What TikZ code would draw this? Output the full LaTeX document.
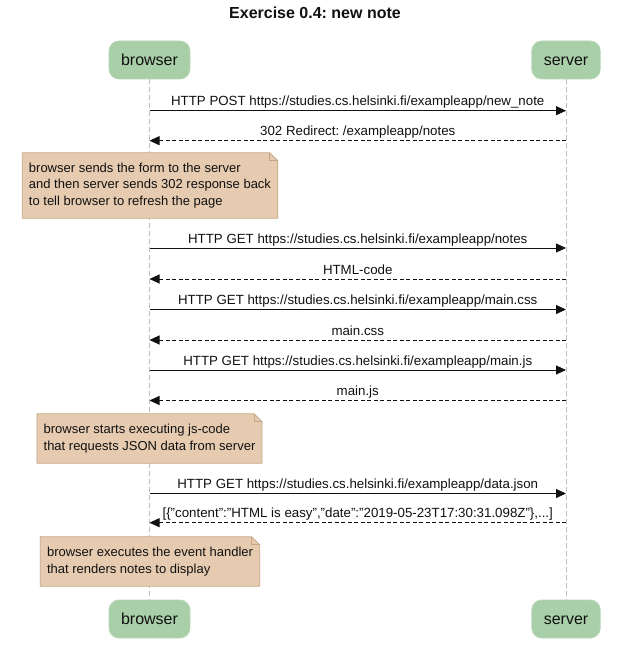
\documentclass[tikz,border=0pt]{standalone}
\usepackage{fontspec}
\setmainfont{Liberation Sans}
\usetikzlibrary{arrows.meta,backgrounds}

\definecolor{actorfill}{HTML}{A9CFA9}
\definecolor{actorline}{HTML}{B6D6B6}
\definecolor{notefill}{HTML}{E6CBB0}
\definecolor{noteline}{HTML}{C4A684}
\definecolor{lifegray}{HTML}{BDBDBD}
\definecolor{inkcol}{HTML}{111111}

% note outline with a folded top-right corner, drawn around a named node
\newcommand\dogear[1]{%
  \path[notebox] (#1.north west) -- ([xshift=-8pt]#1.north east)
     -- ([yshift=-8pt]#1.north east) -- (#1.south east) -- (#1.south west) -- cycle;
  \draw[noteline, line width=0.8pt] ([xshift=-8pt]#1.north east) -- ++(0,8) -- ++(8,0);
}

\begin{document}
\frenchspacing
\begin{tikzpicture}[x=1pt, y=-1pt,
  every node/.style={text=inkcol},
  titletext/.style={font=\fontsize{16}{19}\bfseries\selectfont},
  actor/.style={fill=actorfill, draw=actorline, line width=0.8pt, rounded corners=10pt,
    minimum height=38pt, inner xsep=12pt, font=\fontsize{16}{19}\selectfont,
    text height=11.5pt, text depth=0.5pt},
  note/.style={align=left, inner xsep=6.5pt, inner ysep=0pt,
    font=\fontsize{13}{16.5}\selectfont},
  notebox/.style={fill=notefill, draw=noteline, line width=0.8pt},
  life/.style={draw=lifegray, line width=0.8pt, dash pattern=on 5pt off 3pt},
  call/.style={draw=inkcol, line width=0.9pt, -{Triangle[length=10pt,width=9pt]}},
  reply/.style={call, dash pattern=on 4pt off 2.5pt},
  lbl/.style={midway, above, inner sep=1.5pt, text height=9.5pt, text depth=3pt,
    font=\fontsize{13.3}{15}\selectfont}
]
\useasboundingbox (0,0) rectangle (630,647);

\node[titletext] (title) at (315,12.5) {Exercise 0.4: new note};

% participants
\node[actor] (bTop) at (149.5,60) {browser};
\node[actor] (sTop) at (566,60) {server};
\node[actor] (bBot) at (149.5,619) {browser};
\node[actor] (sBot) at (566,619) {server};

% notes
\node[note, minimum height=65pt] (n1) at (150,185.5)
  {browser sends the form to the server\\and then server sends 302 response back\\to tell browser to refresh the page};
\node[note, minimum height=49pt] (n2) at (149.5,438.5)
  {browser starts executing js-code\\that requests JSON data from server};
\node[note, minimum height=49pt] (n3) at (150,561.5)
  {browser executes the event handler\\that renders notes to display};

\begin{scope}[on background layer]
  \fill[white] (0,0) rectangle (630,647);
  \draw[life] (bTop) -- (bBot);
  \draw[life] (sTop) -- (sBot);
  \dogear{n1}
  \dogear{n2}
  \dogear{n3}
\end{scope}

% message end points on the two lifelines
\foreach \i/\y in {1/110.7, 2/140.7, 3/248, 4/279, 5/309.5, 6/340, 7/370, 8/400.5, 9/493.5, 10/522.7}{
  \coordinate (b\i) at (149.5,\y);
  \coordinate (s\i) at (566,\y);
}

\draw[call]  (b1) -- (s1) node[lbl] {HTTP POST https://studies.cs.helsinki.fi/exampleapp/new\_note};
\draw[reply] (s2) -- (b2) node[lbl] {302 Redirect: /exampleapp/notes};
\draw[call]  (b3) -- (s3) node[lbl] {HTTP GET https://studies.cs.helsinki.fi/exampleapp/notes};
\draw[reply] (s4) -- (b4) node[lbl] {HTML-code};
\draw[call]  (b5) -- (s5) node[lbl] {HTTP GET https://studies.cs.helsinki.fi/exampleapp/main.css};
\draw[reply] (s6) -- (b6) node[lbl] {main.css};
\draw[call]  (b7) -- (s7) node[lbl] {HTTP GET https://studies.cs.helsinki.fi/exampleapp/main.js};
\draw[reply] (s8) -- (b8) node[lbl] {main.js};
\draw[call]  (b9) -- (s9) node[lbl] {HTTP GET https://studies.cs.helsinki.fi/exampleapp/data.json};
\draw[reply] (s10) -- (b10) node[lbl] {[\{"content":"HTML is easy","date":"2019-05-23T17:30:31.098Z"\},...]};

\end{tikzpicture}
\end{document}
